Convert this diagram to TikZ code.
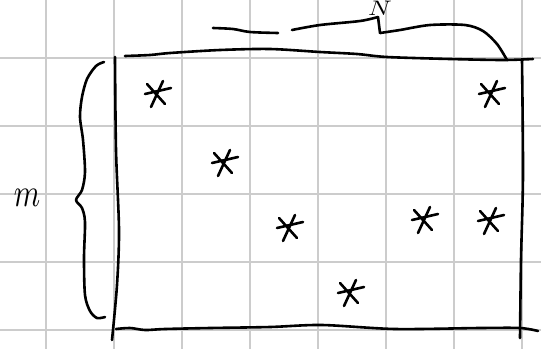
\documentclass[tikz,border=0pt]{standalone}
\begin{document}
\begin{tikzpicture}[x=1pt, y=-1pt,
        gridline/.style={draw=black!20, line width=2pt},
        pen/.style={draw=black, line width=2.6pt, line cap=round, line join=round},
        starmark/.pic={
            \draw[pen] (-6,14) -- (6,-12);
            \draw[pen] (-12,1) -- (14,-5);
            \draw[pen] (-10,-9) -- (8,11);
        }]
    \useasboundingbox (0,0) rectangle (541,349);
    \clip (0,0) rectangle (541,349);
    % squared paper
    \foreach \gx in {46,114,...,522}
        \draw[gridline] (\gx,0) -- (\gx,349);
    \foreach \gy in {58,126,...,330}
        \draw[gridline] (0,\gy) -- (541,\gy);
    % the matrix box
    \draw[pen] plot[smooth] coordinates {(125,56) (150,55) (170,53) (220,50) (270,49) (320,52) (357,54) (387,57) (450,59) (503,60) (533,59)};
    \draw[pen] plot[smooth] coordinates {(115,57) (116,150) (119,230) (117,285) (112,340)};
    \draw[pen] plot[smooth] coordinates {(522,60) (523,175) (521,260) (520,338)};
    \draw[pen] plot[smooth] coordinates {(116,329) (130,328) (145,330) (165,329) (210,328) (270,327) (322,325) (395,329) (480,328) (520,328) (538,331)};
    % brace over the columns
    \draw[pen] plot[smooth] coordinates {(213,28) (233,29) (250,32) (278,33)};
    \draw[pen] plot[smooth] coordinates {(292,30) (320,25) (360,21) (378,17)};
    \draw[pen] (378,17) -- (380,33);
    \draw[pen] plot[smooth] coordinates {(380,33) (400,30) (430,25) (465,25) (483,31) (497,44) (507,60)};
    \node[anchor=base, inner sep=0pt, xscale=2.6, yscale=2.1] (cols) at (380,15) {$N$};
    % brace beside the rows
    \draw[pen] plot[smooth] coordinates {(104,62) (96,66) (87,79) (82,97) (80,117) (83,140) (85,172) (82,190) (76,200) (82,208) (85,222) (84,258) (85,295) (90,311) (97,318) (105,317)};
    \node[xscale=3, yscale=4] (rows) at (27,198) {$m$};
    % nonzero entries
    \pic at (157,93) {starmark};
    \pic at (224,162) {starmark};
    \pic at (289,227) {starmark};
    \pic at (350,292) {starmark};
    \pic at (424,219) {starmark};
    \pic at (490,220) {starmark};
    \pic at (491,93) {starmark};
\end{tikzpicture}
\end{document}
